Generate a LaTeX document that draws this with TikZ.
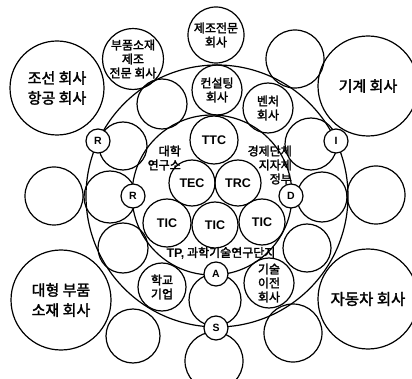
\documentclass[tikz,border=0pt]{standalone}
\usepackage{fontspec}
\newfontfamily\kr{Noto Sans CJK KR}[AutoFakeBold=2]
\newfontfamily\lat{Liberation Sans}
\begin{document}
\begin{tikzpicture}[x=1pt,y=-1pt,
  c/.style={circle,draw,line width=1.2pt,inner sep=0pt,outer sep=0pt},
  letter/.style={c,fill=white,minimum size=24pt,font=\lat\bfseries\fontsize{10.5}{12}\selectfont},
  big/.style={font=\kr\bfseries\fontsize{15}{20}\selectfont,align=center},
  mid/.style={font=\kr\bfseries\fontsize{12}{14}\selectfont,align=center},
  tlab/.style={font=\lat\bfseries\fontsize{12.5}{14}\selectfont},
  txt/.style={inner sep=0pt,font=\kr\bfseries\fontsize{12}{14}\selectfont},
]
\fill[white] (0,0) rectangle (412,379);
\useasboundingbox (0,0) rectangle (412,379);
% rings
\node[c,minimum size=262pt] (outer) at (217,196) {};
\node[c,minimum size=160pt] (inner) at (212,195) {};
% corner circles
\node[c,minimum size=94pt,big] (jo) at (57,88) {조선 회사\\항공 회사};
\node[c,minimum size=100pt,big] (gi) at (368,86) {기계 회사};
\node[c,minimum size=100pt,big] (dae) at (61,300) {대형 부품\\소재 회사};
\node[c,minimum size=100pt,big,font=\kr\bfseries\fontsize{15.5}{20}\selectfont] (ja) at (368,299) {자동차 회사};
% outside circles
\node[c,minimum size=52pt,mid] (bu) at (133,59) {부품소재\\제조\\전문 회사};
\node[c,minimum size=56pt,mid] (je) at (216,35) {제조전문\\회사};
\node[c,minimum size=58pt] (e1) at (295,59) {};
\node[c,minimum size=58pt] (e2) at (54,196) {};
\node[c,minimum size=58pt] (e3) at (376,195) {};
\node[c,minimum size=54pt] (e4) at (133,336) {};
\node[c,minimum size=58pt] (e5) at (214,361) {};
\node[c,minimum size=58pt] (e6) at (293,333) {};
% ring circles
\node[c,minimum size=50pt] (r1) at (162,104) {};
\node[c,minimum size=50pt,mid] (kon) at (217,90) {컨설팅\\회사};
\node[c,minimum size=50pt,mid] (ben) at (268,108) {벤처\\회사};
\node[c,minimum size=52pt] (r2) at (311,144) {};
\node[c,minimum size=50pt] (r3) at (322,197) {};
\node[c,minimum size=48pt] (r4) at (307,248) {};
\node[c,minimum size=50pt,mid] (gis) at (269,283) {기술\\이전\\회사};
\node[c,minimum size=52pt] (r5) at (215,300) {};
\node[c,minimum size=48pt,mid] (hak) at (162,287) {학교\\기업};
\node[c,minimum size=50pt] (r6) at (123,248) {};
\node[c,minimum size=52pt] (r7) at (110,197) {};
\node[c,minimum size=48pt] (r8) at (123,146) {};
% inner circles
\node[c,minimum size=48pt,tlab] (ttc) at (214,140) {TTC};
\node[c,minimum size=46pt,tlab] (tec) at (192,183) {TEC};
\node[c,minimum size=46pt,tlab] (trc) at (238,183) {TRC};
\node[c,minimum size=48pt,tlab] (tic1) at (167,223) {TIC};
\node[c,minimum size=46pt,tlab] (tic2) at (215,225) {TIC};
\node[c,minimum size=46pt,tlab] (tic3) at (262,222) {TIC};
% free texts
\node[txt,anchor=east,align=right] (dh) at (181,158) {대학\\연구소};
\node[txt,anchor=east,align=right] (gj) at (292,165) {경제단체\\지자체\\정부};
\node[txt] (tp) at (221,253) {{\lat\fontsize{12.5}{14}\selectfont TP,} 과학기술연구단지};
% letter circles
\node[letter] (R1) at (98,141) {R};
\node[letter] (R2) at (133,196) {R};
\node[letter] (I) at (336,141) {I};
\node[letter] (D) at (291,196) {D};
\node[letter] (A) at (216,274) {A};
\node[letter] (S) at (216,328) {S};
\end{tikzpicture}
\end{document}
